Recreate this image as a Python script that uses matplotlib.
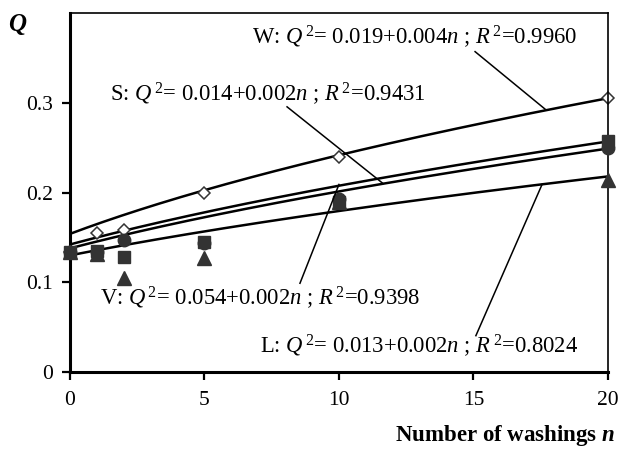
import numpy as np
import matplotlib
matplotlib.use('Agg')
import matplotlib.pyplot as plt

plt.rcParams['font.family'] = 'Liberation Serif'
plt.rcParams['mathtext.fontset'] = 'custom'
plt.rcParams['mathtext.rm'] = 'Liberation Serif'
plt.rcParams['mathtext.it'] = 'Liberation Serif:italic'
plt.rcParams['mathtext.bf'] = 'Liberation Serif:bold'
plt.rcParams['mathtext.bfit'] = 'Liberation Serif:italic:bold'

# washings
n = [0, 1, 2, 5, 10, 20]

q_W = [0.134, 0.155, 0.158, 0.199, 0.240, 0.305]
q_S = [0.134, 0.135, 0.128, 0.145, 0.190, 0.257]
q_V = [0.134, 0.134, 0.147, 0.144, 0.193, 0.250]
q_L = [0.134, 0.131, 0.105, 0.127, 0.190, 0.214]

# trend curves Q = sqrt(a + b*n), as drawn
fit_a = [0.0237, 0.0202, 0.0190, 0.0169]
fit_b = [0.00347, 0.00229, 0.00215, 0.00153]

labels = ["W: $Q^{\\,2}$= 0.019+0.004$n$ ; $R^{\\,2}$=0.9960",
          "S: $Q^{\\,2}$= 0.014+0.002$n$ ; $R^{\\,2}$=0.9431",
          "V: $Q^{\\,2}$= 0.054+0.002$n$ ; $R^{\\,2}$=0.9398",
          "L: $Q^{\\,2}$= 0.013+0.002$n$ ; $R^{\\,2}$=0.8024"]
label_pos = [(6.77, 0.374), (1.49, 0.310), (1.12, 0.083), (7.06, 0.029)]
leaders = [((15.06, 0.357), (17.66, 0.293)),
           ((8.07, 0.2955), (11.64, 0.210)),
           ((8.55, 0.0989), (10.0, 0.209)),
           ((15.09, 0.0405), (17.55, 0.209))]

fig = plt.figure(figsize=(6.21, 4.5), dpi=100)
ax = fig.add_axes([0.1127, 0.1733, 0.8663, 0.7977])

nn = np.linspace(0, 20, 200)
for a, b in zip(fit_a, fit_b):
    ax.plot(nn, np.sqrt(a + b * nn), color='black', lw=1.8, zorder=2)

ax.plot(n, q_W, 'D', mfc='white', mec='#333333', mew=1.1, ms=6.5, ls='none', zorder=2.5, clip_on=False)
ax.plot(n, q_L, '^', color='#333333', ms=10, ls='none', zorder=3, clip_on=False)
ax.plot(n, q_S, 's', color='#333333', ms=9, ls='none', zorder=3, clip_on=False)
ax.plot(n, q_V, 'o', color='#333333', ms=9, ls='none', zorder=3, clip_on=False)

for lab, (tx, ty), (p0, p1) in zip(labels, label_pos, leaders):
    ax.text(tx, ty, lab, fontsize=16.3, ha='left', va='center', zorder=5)
    ax.plot([p0[0], p1[0]], [p0[1], p1[1]], color='black', lw=1.1, zorder=5)

ax.set_xlim(0, 20)
ax.set_ylim(0, 0.4)
ax.set_xticks([0, 5, 10, 15, 20])
ax.set_yticks([0, 0.1, 0.2, 0.3])
ax.set_yticklabels(['0', '0.1', '0.2', '0.3'])
ax.tick_params(labelsize=15.5, direction='out', length=6, width=1.6)
ax.tick_params(axis='x', pad=8)
ax.tick_params(axis='y', pad=6)

for s in ['left', 'bottom']:
    ax.spines[s].set_linewidth(2.2)
for s in ['top', 'right']:
    ax.spines[s].set_linewidth(1.2)

fig.text(0.013, 0.945, 'Q', fontsize=18, ha='left', va='center',
         fontweight='bold', fontstyle='italic')
fig.text(0.99, 0.033, 'Number of washings $\\mathbfit{n}$', fontsize=16.5,
         fontweight='bold', ha='right', va='center')

fig.savefig('out.png', dpi=100)
